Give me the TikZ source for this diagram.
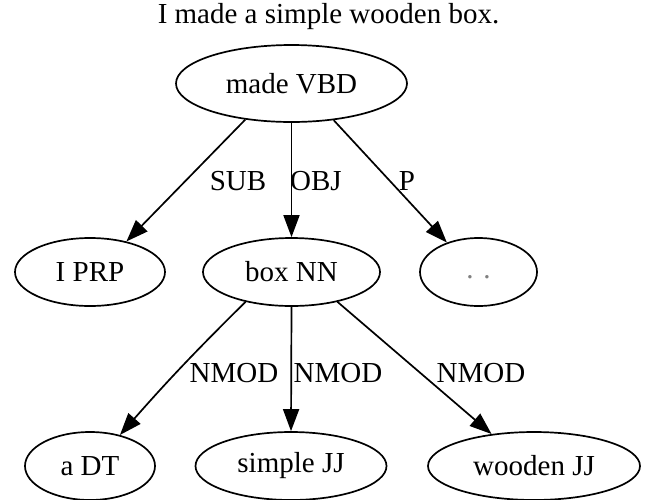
\documentclass[tikz,border=0pt]{standalone}
\usepackage{fontspec}
\setmainfont{Liberation Serif}
\usetikzlibrary{shapes.geometric,arrows.meta}
\tikzset{
  tok/.style={draw, ellipse, line width=1.7pt, inner sep=0pt, font=\fontsize{29}{34}\selectfont},
  dep/.style={-{Triangle[length=22pt,width=16pt]}, line width=1.7pt},
  lbl/.style={font=\fontsize{29}{34}\selectfont, inner sep=0pt}
}
\begin{document}
\begin{tikzpicture}[x=1pt,y=-1pt]
\fill[white] (0,0) rectangle (656,499);
\useasboundingbox (0,0) rectangle (656,499);
\node[lbl] (title) at (328.5,17) {I made a simple wooden box.};
\node[tok, minimum width=231pt, minimum height=77pt] (vbd) at (291.5,83.5) {made VBD};
\node[tok, minimum width=150pt, minimum height=68pt] (prp) at (90,272) {I PRP};
\node[tok, minimum width=177pt, minimum height=68pt] (box) at (291.5,272) {box NN};
\node[tok, minimum width=117pt, minimum height=68pt] (dots) at (478.5,272) {\vphantom{Ag}\textcolor{gray}{. .}};
\node[tok, minimum width=130pt, minimum height=68pt] (dt) at (90,466) {a DT};
\node[tok, minimum width=191pt, minimum height=68pt] (simple) at (291,466) {simple JJ};
\node[tok, minimum width=212pt, minimum height=68pt] (wooden) at (534,466) {wooden JJ};
\draw[dep] (vbd.218.5) -- (prp.40);
\draw[dep] (vbd.south) -- (box.north);
\draw[dep] (vbd.319) -- (dots.137.8);
\draw[dep] (box.213.4) to[bend right=2] (dt.46);
\draw[dep] (box.south) -- (simple.north);
\draw[dep] (box.327.3) -- (wooden.143.4);
\node[lbl] (lsub) at (238,181) {SUB};
\node[lbl] (lobj) at (316,181) {OBJ};
\node[lbl] (lp) at (407,181) {P};
\node[lbl] (ln1) at (234,373) {NMOD};
\node[lbl] (ln2) at (338,373) {NMOD};
\node[lbl] (ln3) at (481,373) {NMOD};
\end{tikzpicture}
\end{document}
